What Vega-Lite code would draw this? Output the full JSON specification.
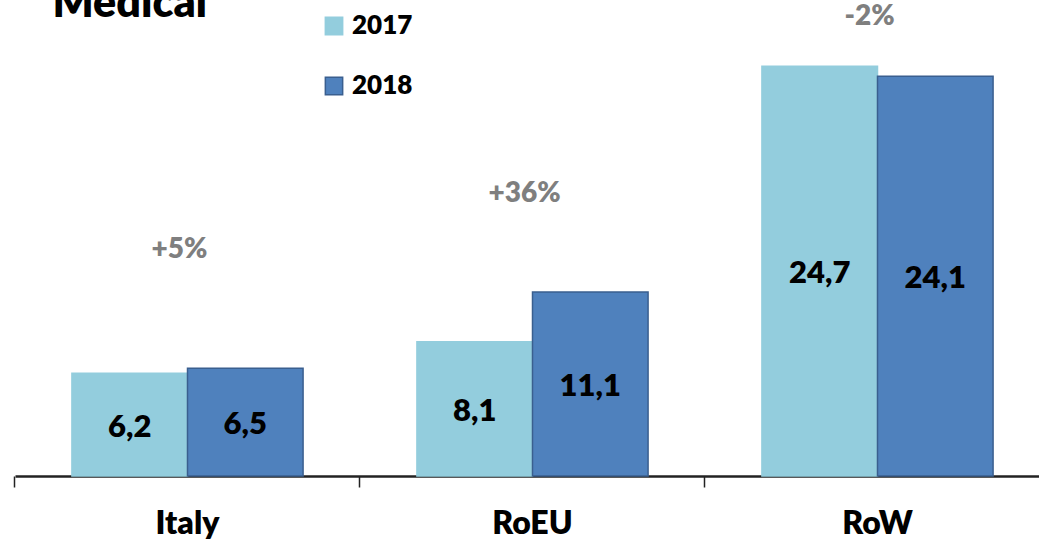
{
  "$schema": "https://vega.github.io/schema/vega-lite/v6.json",
  "autosize": {"type": "none"},
  "width": 1024,
  "height": 476,
  "padding": {"left": 15, "top": 0, "right": 0, "bottom": 67},
  "background": "white",
  "config": {"view": {"stroke": null}, "font": "Lato"},
  "datasets": {
    "bars": [
      {"region": "Italy", "year": "2017", "value": 6.2, "label": "6,2"},
      {"region": "Italy", "year": "2018", "value": 6.5, "label": "6,5"},
      {"region": "RoEU", "year": "2017", "value": 8.1, "label": "8,1"},
      {"region": "RoEU", "year": "2018", "value": 11.1, "label": "11,1"},
      {"region": "RoW", "year": "2017", "value": 24.7, "label": "24,7"},
      {"region": "RoW", "year": "2018", "value": 24.1, "label": "24,1"}
    ],
    "growth": [
      {"region": "Italy", "growth": "+5%", "labelpos": 13.6},
      {"region": "RoEU", "growth": "+36%", "labelpos": 17.0},
      {"region": "RoW", "growth": "-2%", "labelpos": 27.7}
    ],
    "title": [
      {"region": "Italy", "text": "Medical", "labelpos": 27.68}
    ]
  },
  "encoding": {
    "x": {
      "field": "region", "type": "nominal", "sort": ["Italy", "RoEU", "RoW"],
      "scale": {"range": [0, 1035], "paddingInner": 0.33, "paddingOuter": 0.165},
      "axis": {
        "title": null, "labelAngle": 0, "bandPosition": -0.2468,
        "domainColor": "#222222", "domainWidth": 2.5,
        "tickColor": "#222222", "tickWidth": 1.5, "tickSize": 11,
        "labelFontSize": 32, "labelFontWeight": 800, "labelColor": "black", "labelFont": "Lato",
        "labelPadding": 21
      }
    }
  },
  "layer": [
    {
      "data": {"name": "bars"},
      "mark": {"type": "bar", "strokeWidth": 1.5},
      "encoding": {
        "xOffset": {"field": "year", "type": "nominal", "scale": {"paddingInner": 0, "paddingOuter": 0}},
        "y": {"field": "value", "type": "quantitative", "stack": null, "scale": {"domain": [0, 28.7], "nice": false, "zero": true}, "axis": null},
        "color": {
          "field": "year", "type": "nominal",
          "scale": {"domain": ["2017", "2018"], "range": ["#93CDDD", "#4F81BD"]},
          "legend": {
            "title": null, "orient": "none", "legendX": 306, "legendY": 13,
            "symbolType": "square", "symbolSize": 300, "symbolStrokeWidth": 1.5,
            "labelFontSize": 26, "labelFontWeight": 800, "labelColor": "black", "labelFont": "Lato",
            "labelOffset": 5, "rowPadding": 34, "padding": 0
          }
        },
        "stroke": {
          "field": "year", "type": "nominal",
          "scale": {"domain": ["2017", "2018"], "range": ["#93CDDD", "#3A5F8F"]},
          "legend": {
            "title": null, "orient": "none", "legendX": 306, "legendY": 13,
            "symbolType": "square", "symbolSize": 300, "symbolStrokeWidth": 1.5,
            "labelFontSize": 26, "labelFontWeight": 800, "labelColor": "black", "labelFont": "Lato",
            "labelOffset": 5, "rowPadding": 34, "padding": 0
          }
        }
      }
    },
    {
      "data": {"name": "bars"},
      "mark": {"type": "text", "fontSize": 31, "fontWeight": 800, "font": "Lato", "color": "black", "baseline": "middle", "dy": 3},
      "encoding": {
        "xOffset": {"field": "year", "type": "nominal"},
        "y": {"field": "value", "type": "quantitative", "scale": {"domain": [0, 57.4], "nice": false, "zero": true}, "axis": null},
        "text": {"field": "label"}
      }
    },
    {
      "data": {"name": "growth"},
      "mark": {"type": "text", "fontSize": 28, "fontWeight": 800, "font": "Lato", "color": "#7F7F7F", "baseline": "middle", "dx": -8},
      "encoding": {
        "y": {"field": "labelpos", "type": "quantitative", "scale": {"domain": [0, 28.7], "nice": false, "zero": true}, "axis": null},
        "text": {"field": "growth"}
      }
    },
    {
      "data": {"name": "title"},
      "mark": {"type": "text", "fontSize": 43, "fontWeight": 800, "font": "Lato", "color": "black", "baseline": "alphabetic", "align": "left", "dx": -135},
      "encoding": {
        "y": {"field": "labelpos", "type": "quantitative", "scale": {"domain": [0, 28.7], "nice": false, "zero": true}, "axis": null},
        "text": {"field": "text"}
      }
    }
  ],
  "resolve": {"scale": {"y": "independent"}}
}
